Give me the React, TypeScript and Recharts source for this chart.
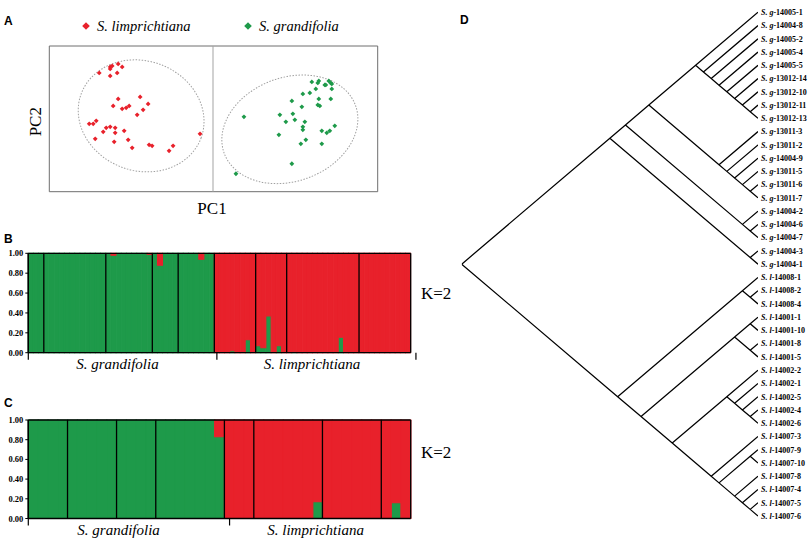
import React from "react";
import {
  ScatterChart, Scatter, XAxis, YAxis, Legend, ReferenceArea, ReferenceLine,
  BarChart, Bar, LineChart, Line,
} from "recharts";

const RED = "#e8212b";
const GREEN = "#1e9a4a";
const SERIF = "'Liberation Serif', 'Times New Roman', serif";
const SANS = "'Liberation Sans', Arial, sans-serif";

// ---------- A: PCA (PC1, PC2 scores, arbitrary units) ----------
const pcaSeries = ["S. limprichtiana", "S. grandifolia"];
const limprichtianaPC: [number, number][] = [
  [-114, 46], [-103, 52], [-101, 53], [-103, 50], [-95, 55], [-91, 52], [-96, 46], [-103, 43],
  [-95, 20], [-73, 22], [-100, 13], [-91, 10], [-87, 11], [-84, 13], [-65, 15], [-70, 9],
  [-76, 4], [-124, -5], [-120, -5], [-117, -2], [-110, -13], [-107, -9], [-103, -8], [-98, -9],
  [-98, -14], [-89, -12], [-118, -20], [-99, -23], [-85, -21], [-81, -29], [-64, -26], [-61, -27],
  [-40, -27], [-44, -32], [-13, -15],
];
const grandifoliaPC: [number, number][] = [
  [99, 37], [105, 36], [106, 38], [112, 34], [113, 34], [116, 38], [118, 36], [119, 35],
  [119, 30], [103, 30], [97, 26], [90, 25], [106, 20], [118, 20], [79, 18], [105, 14],
  [107, 13], [89, 12], [31, 2], [67, 4], [80, 5], [73, -3], [82, -1], [92, -3],
  [90, -8], [90, -11], [122, -7], [117, -12], [114, -14], [109, -12], [66, -16], [93, -21],
  [88, -25], [109, -25], [79, -45], [23, -55],
];
// confidence ellipses: centre, semi-axes, tilt (deg)
const pcaEllipses = [
  { id: "l", pc1: -72, pc2: 3, a: 64, b: 55, tilt: -20 },
  { id: "g", pc1: 77, pc2: -10.5, a: 70, b: 52, tilt: 20 },
];

// ---------- B / C: STRUCTURE membership (share of green cluster) ----------
const speciesLabels = ["S. grandifolia", "S. limprichtiana"];
const structB_grand = [
  1, 1, 1,
  1, 1, 1, 1, 1, 1, 1, 1, 1, 1, 1, 1,
  1, 0.98, 1, 1, 1, 1, 1, 1, 0.99,
  1, 0.88, 1, 1, 1,
  1, 1, 1, 1, 0.94, 1, 1,
];
const structB_limp = [
  0, 0, 0, 0.02, 0, 0, 0.13, 0,
  0.07, 0.05, 0.37, 0, 0.07, 0,
  0, 0.01, 0, 0, 0, 0, 0, 0, 0, 0, 0.155, 0, 0, 0,
  0, 0, 0, 0, 0, 0, 0, 0, 0, 0,
];
const popsB_grand = [3, 12, 9, 5, 7];
const popsB_limp = [8, 6, 14, 10];

const structC_grand = [
  1, 1, 1, 1,
  1, 1, 1, 1, 1,
  1, 1, 1, 1,
  1, 1, 1, 1, 1, 1, 0.83,
];
const structC_limp = [
  0, 0, 0,
  0, 0, 0, 0, 0, 0, 0.17,
  0, 0, 0, 0, 0, 0,
  0, 0.16, 0,
];
const popsC_grand = [4, 5, 4, 7];
const popsC_limp = [3, 7, 6, 3];
const yTicks = [0, 0.2, 0.4, 0.6, 0.8, 1];

// ---------- D: cladogram ----------
type Clade = string | Clade[];
const grandifoliaClade: Clade = [
  [
    [
      ["S. g-14005-1", ["S. g-14004-8", ["S. g-14005-2", ["S. g-14005-4", ["S. g-14005-5",
        ["S. g-13012-14", ["S. g-13012-10", ["S. g-13012-11", "S. g-13012-13"]]]]]]]],
      ["S. g-13011-3", ["S. g-13011-2", ["S. g-14004-9", ["S. g-13011-5", ["S. g-13011-6", "S. g-13011-7"]]]]],
    ],
    ["S. g-14004-2", ["S. g-14004-6", "S. g-14004-7"]],
  ],
  ["S. g-14004-3", "S. g-14004-1"],
];
const limprichtianaClade: Clade = [
  ["S. l-14008-1", ["S. l-14008-2", "S. l-14008-4"]],
  [
    [["S. l-14001-1", "S. l-14001-10"], ["S. l-14001-8", "S. l-14001-5"]],
    [
      ["S. l-14002-2", ["S. l-14002-1", ["S. l-14002-5", ["S. l-14002-4", "S. l-14002-6"]]]],
      ["S. l-14007-3", [["S. l-14007-9", "S. l-14007-10"],
        ["S. l-14007-8", ["S. l-14007-4", ["S. l-14007-5", "S. l-14007-6"]]]]],
    ],
  ],
];
const treeTopology: Clade = [grandifoliaClade, limprichtianaClade];

// slanted cladogram layout: leaves at x=0, node x = -(span)/2
function layoutTree(root: Clade) {
  const leaves: string[] = [];
  const segs: { x: number; y: number | null }[] = [];
  const walk = (n: Clade): { x: number; y: number; t: number; b: number } => {
    if (typeof n === "string") {
      const i = leaves.length;
      leaves.push(n);
      return { x: 0, y: i, t: i, b: i };
    }
    const kids = n.map(walk);
    const t = kids[0].t;
    const b = kids[kids.length - 1].b;
    const node = { x: -(b - t) / 2, y: (t + b) / 2, t, b };
    kids.forEach((k) => {
      segs.push({ x: node.x, y: node.y }, { x: k.x, y: k.y }, { x: k.x, y: null });
    });
    return node;
  };
  const r = walk(root);
  return { leaves, segs, rootX: r.x };
}

const diamond = (cx: number, cy: number, r: number) =>
  `M${cx},${cy - r}L${cx + r},${cy}L${cx},${cy + r}L${cx - r},${cy}Z`;

const ellipseShape = (tilt: number) => (p: any) => {
  const cx = p.x + p.width / 2;
  const cy = p.y + p.height / 2;
  return (
    <ellipse cx={cx} cy={cy} rx={p.width / 2} ry={p.height / 2}
      transform={`rotate(${-tilt} ${cx} ${cy})`}
      fill="none" stroke="#a0a0a0" strokeWidth={1} strokeDasharray="1.5 1.5" />
  );
};

const PcaLegend = (props: any) => {
  const items = [...(props.payload || [])].sort(
    (a: any, b: any) => pcaSeries.indexOf(a.value) - pcaSeries.indexOf(b.value)
  );
  return (
    <svg width={300} height={22} style={{ display: "block" }}>
      {items.map((it: any, i: number) => {
        const x0 = i * 162;
        return (
          <g key={it.value}>
            <path d={diamond(x0 + 6, 11, 3.8)} fill={it.color} />
            <text x={x0 + 17} y={15.5} fontFamily={SERIF} fontStyle="italic" fontSize={14.5} fill="#000">
              {it.value}
            </text>
          </g>
        );
      })}
    </svg>
  );
};

const PcaPanel = () => {
  const lData = limprichtianaPC.map(([pc1, pc2]) => ({ pc1, pc2 }));
  const gData = grandifoliaPC.map(([pc1, pc2]) => ({ pc1, pc2 }));
  return (
    <div style={{ position: "absolute", left: 0, top: 0, width: 420, height: 230 }}>
      <ScatterChart width={420} height={230} margin={{ top: 46, right: 42.3, bottom: 38.3, left: 49.3 }}>
        <XAxis type="number" dataKey="pc1" domain={[-164, 165]} hide allowDataOverflow />
        <YAxis type="number" dataKey="pc2" domain={[-73, 73]} hide allowDataOverflow />
        <ReferenceArea x1={-164} x2={165} y1={-73} y2={73} fill="none" stroke="#6e6e6e" strokeWidth={1} ifOverflow="visible" />
        <ReferenceLine x={0} stroke="#a3a3a3" strokeWidth={1} />
        {pcaEllipses.map((e) => (
          <ReferenceArea key={e.id} x1={e.pc1 - e.a} x2={e.pc1 + e.a} y1={e.pc2 - e.b} y2={e.pc2 + e.b}
            ifOverflow="visible" shape={ellipseShape(e.tilt)} />
        ))}
        <Legend layout="horizontal" verticalAlign="middle" align="center" content={PcaLegend}
          wrapperStyle={{ top: 15, left: 80, width: 300 }} />
        <Scatter name={pcaSeries[0]} data={lData} fill={RED} isAnimationActive={false}
          shape={(p: any) => <path d={diamond(p.cx, p.cy, 2.4)} fill={RED} />} />
        <Scatter name={pcaSeries[1]} data={gData} fill={GREEN} isAnimationActive={false}
          shape={(p: any) => <path d={diamond(p.cx, p.cy, 2.4)} fill={GREEN} />} />
      </ScatterChart>
    </div>
  );
};

const groupStarts = (sizes: number[], prefix: string) => {
  let c = 0;
  return sizes.map((s) => {
    const id = `${prefix}${c}`;
    c += s;
    return id;
  });
};

type StructProps = {
  grand: number[]; limp: number[]; grandPops: number[]; limpPops: number[];
  top: number; height: number; marginTop: number; marginBottom: number;
};

const StructurePanel = ({ grand, limp, grandPops, limpPops, top, height, marginTop, marginBottom }: StructProps) => {
  const rows = [
    ...grand.map((q, i) => ({ id: `g${i}`, green: q, red: 1 - q })),
    ...limp.map((q, i) => ({ id: `l${i}`, green: q, red: 1 - q })),
  ];
  const n = rows.length;
  const starts = [...groupStarts(grandPops, "g"), ...groupStarts(limpPops, "l")];
  const labelAt = [0.23 * n, 0.732 * n];
  const spTicks = [0, labelAt[0], grand.length, labelAt[1], n];
  const SpeciesTick = (p: any) => {
    const li = labelAt.findIndex((v) => Math.abs(v - p.payload.value) < 1e-6);
    if (li >= 0) {
      return (
        <text x={p.x} y={p.y + 16.5} textAnchor="middle" fontFamily={SERIF} fontStyle="italic" fontSize={15} fill="#000">
          {speciesLabels[li]}
        </text>
      );
    }
    return <line x1={p.x} y1={p.y} x2={p.x} y2={p.y + 7} stroke="#000" strokeWidth={1.2} />;
  };
  return (
    <div style={{ position: "absolute", left: 0, top, width: 420, height }}>
      <BarChart width={420} height={height} data={rows} barCategoryGap={0} barGap={0}
        margin={{ top: marginTop, right: 9.3, bottom: marginBottom, left: 0 }}>
        <XAxis xAxisId="sp" type="number" domain={[0, n]} ticks={spTicks} interval={0} height={22}
          allowDataOverflow tickSize={0} tickMargin={0} tickLine={false}
          axisLine={{ stroke: "#000", strokeWidth: 1.3 }} tick={SpeciesTick} />
        <XAxis xAxisId="ind" type="category" dataKey="id" hide height={0} />
        <YAxis type="number" domain={[0, 1]} ticks={yTicks} interval={0} width={28.3}
          tickFormatter={(v: number) => v.toFixed(2)} tickSize={3} tickMargin={2}
          axisLine={{ stroke: "#000", strokeWidth: 1.3 }} tickLine={{ stroke: "#000" }}
          tick={{ fontSize: 8.5, fontWeight: "bold", fontFamily: SERIF, fill: "#000" }} />
        <Bar xAxisId="ind" dataKey="green" stackId="q" fill={GREEN} stroke={GREEN} strokeWidth={1.1} isAnimationActive={false} />
        <Bar xAxisId="ind" dataKey="red" stackId="q" fill={RED} stroke={RED} strokeWidth={1.1} isAnimationActive={false} />
        {starts.map((id) => (
          <ReferenceLine key={id} xAxisId="ind" x={id} position="start" stroke="#000" strokeWidth={1.3} />
        ))}
        <ReferenceLine xAxisId="ind" x={rows[n - 1].id} position="end" stroke="#000" strokeWidth={1.3} />
        <ReferenceLine xAxisId="ind" y={1} stroke="#000" strokeWidth={1.3} />
      </BarChart>
    </div>
  );
};

const TreePanel = () => {
  const { leaves, segs, rootX } = layoutTree(treeTopology);
  const LeafTick = (p: any) => {
    const name = leaves[p.payload.value] || "";
    const cut = name.indexOf("-");
    return (
      <text x={p.x} y={p.y} dy={2.8} fontFamily={SERIF} fontSize={8} fontWeight="bold" fill="#000">
        <tspan fontStyle="italic">{name.slice(0, cut)}</tspan>
        {name.slice(cut)}
      </text>
    );
  };
  return (
    <div style={{ position: "absolute", left: 440, top: 0, width: 372, height: 544 }}>
      <LineChart width={372} height={544} data={segs} margin={{ top: 12.3, right: 0, bottom: 28, left: 21.7 }}>
        <XAxis type="number" dataKey="x" domain={[rootX, 0]} hide allowDataOverflow />
        <YAxis type="number" orientation="right" domain={[0, leaves.length - 1]} reversed
          ticks={leaves.map((_, i) => i)} interval={0} width={54} axisLine={false} tickLine={false}
          tickSize={0} tickMargin={3} tick={LeafTick} />
        <Line dataKey="y" stroke="#000" strokeWidth={1.25} dot={false} activeDot={false}
          connectNulls={false} isAnimationActive={false} />
      </LineChart>
    </div>
  );
};

const Annotations = () => (
  <svg width={812} height={544} style={{ position: "absolute", left: 0, top: 0, pointerEvents: "none" }}>
    <g fontFamily={SANS} fontWeight="bold" fontSize={12} fill="#000">
      <text x={4} y={24.5}>A</text>
      <text x={4} y={243}>B</text>
      <text x={4} y={406.5}>C</text>
      <text x={460} y={23.5}>D</text>
    </g>
    <g fontFamily={SERIF} fontSize={17} fill="#000">
      <text x={212} y={214} textAnchor="middle">PC1</text>
      <text x={41.5} y={121.7} textAnchor="middle" transform="rotate(-90 41.5 121.7)">PC2</text>
      <text x={421} y={299}>K=2</text>
      <text x={421} y={458.3}>K=2</text>
    </g>
  </svg>
);

export default function App() {
  return (
    <div style={{ position: "absolute", left: 0, top: 0, width: 812, height: 544, background: "#fff", overflow: "hidden" }}>
      <PcaPanel />
      <StructurePanel grand={structB_grand} limp={structB_limp} grandPops={popsB_grand} limpPops={popsB_limp}
        top={240} height={150} marginTop={13.3} marginBottom={15.3} />
      <StructurePanel grand={structC_grand} limp={structC_limp} grandPops={popsC_grand} limpPops={popsC_limp}
        top={405} height={139} marginTop={15} marginBottom={3.5} />
      <TreePanel />
      <Annotations />
    </div>
  );
}
